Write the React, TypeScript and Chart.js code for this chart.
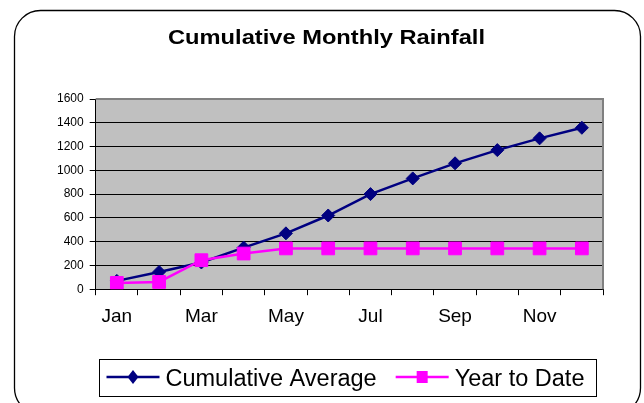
import React, { useEffect, useRef } from 'react';
import { Chart, registerables } from 'chart.js';

Chart.register(...registerables);

const months = ['Jan', 'Feb', 'Mar', 'Apr', 'May', 'Jun', 'Jul', 'Aug', 'Sep', 'Oct', 'Nov', 'Dec'];
const xTickLabels = ['Jan', '', 'Mar', '', 'May', '', 'Jul', '', 'Sep', '', 'Nov', ''];
const cumulativeAverage = [70, 145, 225, 350, 470, 620, 800, 932, 1059, 1170, 1269, 1358];
const yearToDate = [53, 61, 244, 300, 343, 343, 343, 343, 343, 343, 343, 343];
const yMin = 0;
const yMax = 1600;
const yStep = 200;
const chartTitle = 'Cumulative Monthly Rainfall';
const seriesNames = ['Cumulative Average', 'Year to Date'];
const seriesColors = ['#000080', '#FF00FF'];

const FONT = '"Liberation Sans", Arial, Helvetica, sans-serif';

function drawMarker(ctx: CanvasRenderingContext2D, style: string, x: number, y: number, color: string) {
  ctx.save();
  ctx.fillStyle = color;
  ctx.beginPath();
  if (style === 'rectRot') {
    ctx.moveTo(x, y - 7);
    ctx.lineTo(x + 5.5, y);
    ctx.lineTo(x, y + 7);
    ctx.lineTo(x - 5.5, y);
    ctx.closePath();
  } else {
    ctx.rect(x - 5.5, y - 6, 11, 12);
  }
  ctx.fill();
  ctx.restore();
}

const decorPlugin = {
  id: 'decor',
  beforeDraw(chart: any) {
    const { ctx, chartArea } = chart;
    ctx.save();
    ctx.fillStyle = '#ffffff';
    ctx.fillRect(0, 0, chart.width, chart.height);
    // rounded outer frame
    const x0 = 14.5, y0 = 10.5, x1 = 640.5, y1 = 414, r = 26;
    ctx.beginPath();
    ctx.moveTo(x0 + r, y0);
    ctx.lineTo(x1 - r, y0);
    ctx.arcTo(x1, y0, x1, y0 + r, r);
    ctx.lineTo(x1, y1 - r);
    ctx.arcTo(x1, y1, x1 - r, y1, r);
    ctx.lineTo(x0 + r, y1);
    ctx.arcTo(x0, y1, x0, y1 - r, r);
    ctx.lineTo(x0, y0 + r);
    ctx.arcTo(x0, y0, x0 + r, y0, r);
    ctx.closePath();
    ctx.strokeStyle = '#000';
    ctx.lineWidth = 1.3;
    ctx.stroke();
    // plot background
    ctx.fillStyle = '#C0C0C0';
    ctx.fillRect(chartArea.left, chartArea.top, chartArea.right - chartArea.left, chartArea.bottom - chartArea.top);
    ctx.restore();
  },
  beforeDatasetsDraw(chart: any) {
    const { ctx, chartArea } = chart;
    ctx.save();
    ctx.strokeStyle = '#808080';
    ctx.lineWidth = 2;
    ctx.beginPath();
    ctx.moveTo(chartArea.left, chartArea.top);
    ctx.lineTo(chartArea.right, chartArea.top);
    ctx.lineTo(chartArea.right, chartArea.bottom);
    ctx.stroke();
    ctx.restore();
  },
  afterDraw(chart: any) {
    const { ctx, chartArea } = chart;
    ctx.save();
    // title (glyphs stretched horizontally like the original)
    ctx.font = 'bold 20px ' + FONT;
    ctx.fillStyle = '#000';
    ctx.textBaseline = 'alphabetic';
    ctx.textAlign = 'center';
    const baseW = ctx.measureText(chartTitle).width;
    const sx = 317 / baseW;
    ctx.save();
    ctx.translate(326.5, 43.5);
    ctx.scale(sx, 1);
    ctx.fillText(chartTitle, 0, 0);
    ctx.restore();

    // legend
    ctx.textAlign = 'left';
    ctx.font = '23.5px ' + FONT;
    const items = chart.data.datasets.map((ds: any) => ({
      label: ds.label as string,
      color: ds.borderColor as string,
      style: ds.pointStyle as string,
      w: ctx.measureText(ds.label).width,
    }));
    const padL = 7, lineW = 53, gapT = 6, gapI = 19, padR = 12;
    let total = padL + padR;
    items.forEach((it: any, i: number) => {
      total += lineW + gapT + it.w + (i > 0 ? gapI : 0);
    });
    const cx = (chartArea.left + chartArea.right) / 2 - 2;
    const left = Math.round(cx - total / 2) + 0.5;
    const top = 359.5, h = 37;
    ctx.strokeStyle = '#000';
    ctx.lineWidth = 1;
    ctx.strokeRect(left, top, Math.round(total), h);
    const cy = 377;
    let x = left + padL;
    items.forEach((it: any, i: number) => {
      if (i > 0) x += gapI;
      ctx.strokeStyle = it.color;
      ctx.lineWidth = 2.5;
      ctx.beginPath();
      ctx.moveTo(x, cy);
      ctx.lineTo(x + lineW, cy);
      ctx.stroke();
      drawMarker(ctx, it.style, x + lineW / 2, cy, it.color);
      x += lineW + gapT;
      ctx.fillStyle = '#000';
      ctx.textBaseline = 'alphabetic';
      ctx.fillText(it.label, x, 386);
      x += it.w;
    });
    ctx.restore();
  },
};

export default function App() {
  const canvasRef = useRef<HTMLCanvasElement | null>(null);

  useEffect(() => {
    const canvas = canvasRef.current;
    if (!canvas) return;
    const chart = new Chart(canvas, {
      type: 'line',
      data: {
        labels: months,
        datasets: [
          {
            label: seriesNames[0],
            data: cumulativeAverage,
            borderColor: seriesColors[0],
            backgroundColor: seriesColors[0],
            borderWidth: 2.5,
            pointStyle: 'rectRot',
            pointRadius: 6.5,
            pointBorderWidth: 1,
            pointBackgroundColor: seriesColors[0],
            pointBorderColor: seriesColors[0],
            tension: 0,
            fill: false,
            order: 1,
          },
          {
            label: seriesNames[1],
            data: yearToDate,
            borderColor: seriesColors[1],
            backgroundColor: seriesColors[1],
            borderWidth: 2.5,
            pointStyle: 'rect',
            pointRadius: 9,
            pointBorderWidth: 1,
            pointBackgroundColor: seriesColors[1],
            pointBorderColor: seriesColors[1],
            tension: 0,
            fill: false,
            order: 0,
          },
        ],
      },
      options: {
        responsive: false,
        animation: false,
        devicePixelRatio: 1,
        layout: { padding: { left: 51, right: 41, top: 99, bottom: 65 } },
        plugins: {
          legend: { display: false },
          title: { display: false },
          tooltip: { enabled: false },
        },
        scales: {
          x: {
            type: 'category',
            offset: true,
            grid: {
              offset: true,
              drawOnChartArea: false,
              drawTicks: true,
              tickLength: 6,
              color: '#000',
              lineWidth: 1,
            },
            border: { color: '#000', width: 1 },
            ticks: {
              autoSkip: false,
              maxRotation: 0,
              minRotation: 0,
              padding: 10,
              color: '#000',
              font: { family: FONT, size: 19 },
              callback: (_v: any, i: number) => xTickLabels[i],
            },
          },
          y: {
            min: yMin,
            max: yMax,
            ticks: {
              stepSize: yStep,
              padding: 6,
              color: '#000',
              font: { family: FONT, size: 12 },
              callback: (v: any) => String(v),
            },
            grid: {
              color: (c: any) => (c.tick && c.tick.value === yMax ? '#808080' : '#000'),
              tickColor: '#000',
              tickLength: 6,
              lineWidth: 1,
            },
            border: { color: '#000', width: 1 },
          },
        },
      },
      plugins: [decorPlugin],
    } as any);
    return () => chart.destroy();
  }, []);

  return (
    <div style={{ position: 'absolute', left: 0, top: 0, width: 644, height: 403 }}>
      <canvas ref={canvasRef} width={644} height={403} style={{ display: 'block', width: 644, height: 403 }} />
    </div>
  );
}
